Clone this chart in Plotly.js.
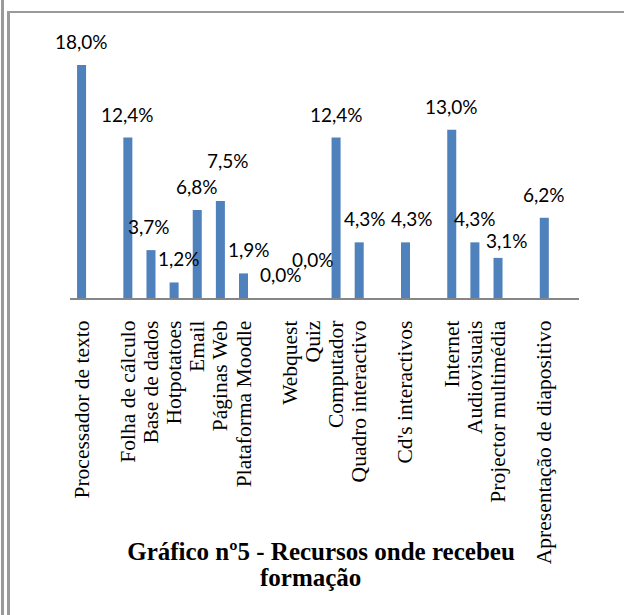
<!DOCTYPE html>
<html>
<head>
<meta charset="utf-8">
<script src="https://cdn.plot.ly/plotly-3.0.1.min.js"></script>
<style>html,body{margin:0;padding:0;background:#fff;}#chart{width:624px;height:615px;}</style>
</head>
<body>
<div id="chart"></div>
<script>
// Categories (zero-width-space entries are the empty slots of the original sheet)
const categories = ['Processador de texto', '\u200b', 'Folha de cálculo', 'Base de dados', 'Hotpotatoes', 'Email',
  'Páginas Web', 'Plataforma Moodle', '\u200b\u200b', 'Webquest', 'Quiz', 'Computador', 'Quadro interactivo',
  '\u200b\u200b\u200b', "Cd's interactivos", '\u200b\u200b\u200b\u200b', 'Internet', 'Audiovisuais',
  'Projector multimédia', '\u200b\u200b\u200b\u200b\u200b', 'Apresentação de diapositivo', '\u200b\u200b\u200b\u200b\u200b\u200b'];
const values = [18.0, null, 12.4, 3.7, 1.2, 6.8, 7.5, 1.9, null, 0.0, 0.0, 12.4, 4.3, null, 4.3, null, 13.0, 4.3, 3.1, null, 6.2, null];
// label nudges [dx, dy] in px, as placed in the original
const labelNudge = [[0,0],[0,0],[0,0],[-2,0],[5,0],[0,0],[8,17],[5,0],[0,0],[-9,0],[0,15],[0,0],[6,0],[0,0],[7,0],[0,0],[0,0],[0,0],[9,-6],[0,0],[0,0],[0,0]];
const titleLine1 = 'Gráfico nº5 - Recursos onde recebeu';
const titleLine2 = 'formação';

const W = 624, H = 615, L = 70, R = 45, T = 30, B = 317;
const pw = W - L - R, ph = H - T - B;
const px = x => (x - L) / pw;
const py = y => (H - B - y) / ph;

const fmt = v => v.toFixed(1).replace('.', ',') + '%';
const realCats = categories.filter(c => c.replace(/\u200b/g, '') !== '');

const annotations = [];
values.forEach((v, i) => {
  if (v === null) return;
  annotations.push({
    x: categories[i], y: v, xref: 'x', yref: 'y', text: fmt(v), showarrow: false,
    yanchor: 'bottom', xanchor: 'center', xshift: labelNudge[i][0], yshift: 10 + labelNudge[i][1],
    font: {family: 'Lato, "Open Sans", sans-serif', size: 19, color: '#000'}
  });
});
annotations.push({
  xref: 'paper', yref: 'paper', x: px(310), y: py(577), text: '<b>' + titleLine2 + '</b>',
  showarrow: false, xanchor: 'center', yanchor: 'middle',
  font: {family: '"Liberation Serif", "Times New Roman", serif', size: 25, color: '#000'}
});

const frame = '#9a9a9a';
const shapes = [
  {type: 'line', xref: 'paper', yref: 'paper', x0: px(2.5), x1: px(2.5), y0: py(0), y1: py(615), line: {color: frame, width: 3}},
  {type: 'line', xref: 'paper', yref: 'paper', x0: px(8.5), x1: px(8.5), y0: py(11), y1: py(615), line: {color: frame, width: 3}},
  {type: 'line', xref: 'paper', yref: 'paper', x0: px(7), x1: px(624), y0: py(12), y1: py(12), line: {color: frame, width: 2}}
];

const trace = {
  type: 'bar', x: categories, y: values,
  marker: {color: '#4F81BD', line: {width: 0}},
  hoverinfo: 'skip'
};

const layout = {
  width: W, height: H,
  margin: {l: L, r: R, t: T, b: B, pad: 0},
  paper_bgcolor: '#fff', plot_bgcolor: '#fff',
  showlegend: false,
  bargap: 0.61,
  title: {
    text: '<b>' + titleLine1 + '</b>',
    font: {family: '"Liberation Serif", "Times New Roman", serif', size: 25, color: '#000'},
    xref: 'container', yref: 'container', x: 321 / W, xanchor: 'center', y: 1 - 551 / H, yanchor: 'middle'
  },
  xaxis: {
    type: 'category', categoryorder: 'array', categoryarray: categories,
    range: [-0.5, categories.length - 0.5],
    tickmode: 'array', tickvals: realCats, ticktext: realCats,
    showline: true, linecolor: '#868686', linewidth: 2,
    ticks: '', tickangle: -90, ticklabelstandoff: 12,
    tickfont: {family: '"Liberation Serif", "Times New Roman", serif', size: 21.5, color: '#000'},
    showgrid: false, zeroline: false, fixedrange: true
  },
  yaxis: {
    range: [0, ph / 12.94], visible: false, showgrid: false, zeroline: false, fixedrange: true
  },
  annotations: annotations,
  shapes: shapes
};

Plotly.newPlot('chart', [trace], layout, {displayModeBar: false, staticPlot: true});
</script>
</body>
</html>
